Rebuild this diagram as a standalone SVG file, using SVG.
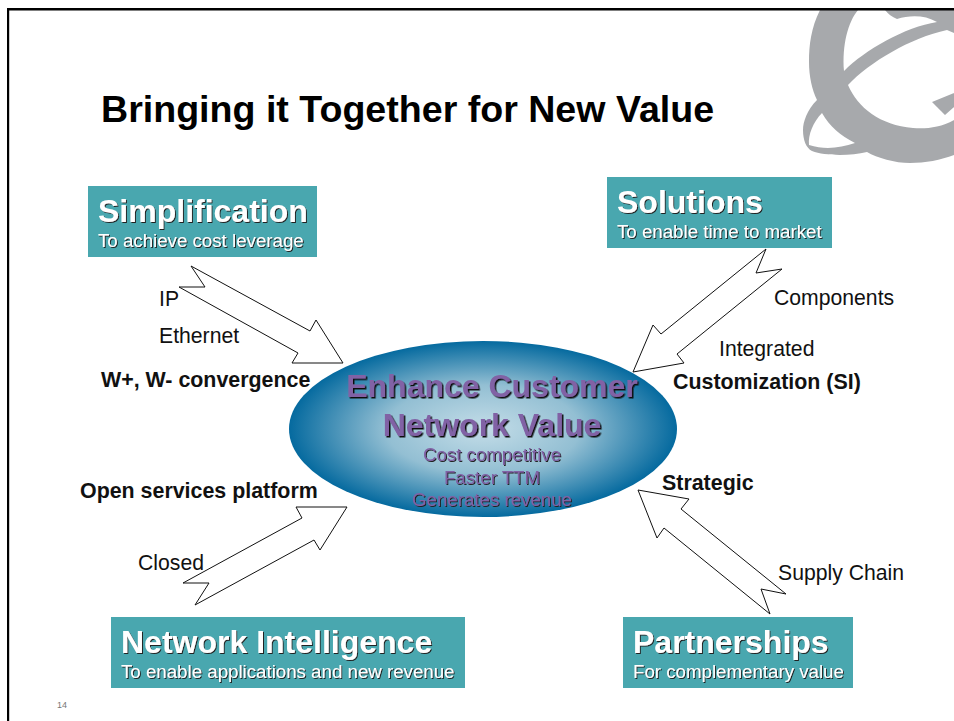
<svg xmlns="http://www.w3.org/2000/svg" width="954" height="721" viewBox="0 0 954 721">
<style>
text{font-family:"Liberation Sans",Arial,sans-serif}
.box{fill:#49a7af}
.h{font-size:32px;font-weight:bold;fill:#fff;filter:url(#sh)}
.s{font-size:18.700px;fill:#fff;filter:url(#sh)}
.lab{font-size:21.200px;fill:#111}
.blab{font-size:21.400px;font-weight:bold;fill:#111}
.arrow{fill:#fff;stroke:#111;stroke-width:1}
.p{fill:#8162a5;font-weight:bold;text-anchor:middle;font-size:32px;filter:url(#sh2)}
.q{fill:#8162a5;text-anchor:middle;font-size:18.700px;filter:url(#sh)}
</style>
<defs>
<radialGradient id="g" cx="0.5" cy="0.5" r="0.5">
<stop offset="0" stop-color="#c4dde8"/>
<stop offset="0.5" stop-color="#93bfd3"/>
<stop offset="1" stop-color="#056a9f"/>
</radialGradient>
<filter id="sh" x="-5%" y="-20%" width="110%" height="140%"><feDropShadow dx="1" dy="1" stdDeviation="0.300" flood-color="#222"/></filter>
<filter id="sh2" x="-5%" y="-20%" width="110%" height="140%"><feDropShadow dx="1.500" dy="1.500" stdDeviation="0.300" flood-color="#111"/></filter>
</defs>
<rect width="954" height="721" fill="#fff"/>
<g id="logo">
<path fill="#a7a9ac" fill-rule="evenodd" d="M820 10C811 28 809 45 809 62C809 76 812 90 817 100C807 110 803 122 803 130C803 140 806 148 812 151C825 156 850 156 867 152C877 158 895 163 910 163C925 163 941 160 954 155V10Z
M858 10C848 22 842 45 844 71C865 50 905 27 937 22C925 15 910 15 897 19C892 17 888 14 885 10Z
M848 85C870 62 910 38 947 30L954 33V93L932 102L945 115L954 107V120C940 128 925 129 913 128C880 125 858 108 848 85Z
M822 113C813 122 808 135 809 145C825 150 840 148 855 143C840 135 830 127 822 113Z"/>
</g>
<g id="frame">
<rect x="7" y="8" width="947" height="2.500" fill="#000"/>
<rect x="7" y="8" width="2.200" height="713" fill="#000"/>
</g>
<text x="101" y="122" font-size="37.600" font-weight="bold" fill="#000">Bringing it Together for New Value</text>
<text x="57" y="708" font-size="9" fill="#777">14</text>
<g id="connectors">
<path class="arrow" d="M191 266L310 331L316 320L343 363L292 363L298 353L179 287L205 287Z"/>
<path class="arrow" d="M766 249L661 334L653 325L633 372L684 363L677 354L782 269L756 273Z"/>
<path class="arrow" d="M183 583L302 518L296 507L347 507L320 550L314 540L195 605L209 583Z"/>
<path class="arrow" d="M638 490L689 499L681 509L786 594L761 589L770 614L664 528L657 538Z"/>
</g>
<g id="hub">
<ellipse cx="483" cy="429" rx="194" ry="88" fill="url(#g)"/>
<text class="p" x="492" y="397">Enhance Customer</text>
<text class="p" x="492" y="436">Network Value</text>
<text class="q" x="492" y="461">Cost competitive</text>
<text class="q" x="492" y="484">Faster TTM</text>
<text class="q" x="492" y="506">Generates revenue</text>
</g>
<g id="simplification">
<rect class="box" x="88" y="186" width="229" height="71"/>
<text class="h" x="98" y="222">Simplification</text>
<text class="s" x="98" y="247">To achieve cost leverage</text>
</g>
<g id="solutions">
<rect class="box" x="607" y="177" width="225" height="71"/>
<text class="h" x="617" y="213">Solutions</text>
<text class="s" x="617" y="238">To enable time to market</text>
</g>
<g id="network-intelligence">
<rect class="box" x="111" y="617" width="354" height="71"/>
<text class="h" x="121" y="653">Network Intelligence</text>
<text class="s" x="121" y="678">To enable applications and new revenue</text>
</g>
<g id="partnerships">
<rect class="box" x="623" y="617" width="230" height="71"/>
<text class="h" x="633" y="653">Partnerships</text>
<text class="s" x="633" y="678">For complementary value</text>
</g>
<g id="labels">
<text class="lab" x="159" y="306">IP</text>
<text class="lab" x="159" y="343">Ethernet</text>
<text class="blab" x="101" y="387">W+, W- convergence</text>
<text class="lab" x="774" y="305">Components</text>
<text class="lab" x="719" y="356">Integrated</text>
<text class="blab" x="673" y="389">Customization (SI)</text>
<text class="blab" x="80" y="498">Open services platform</text>
<text class="lab" x="138" y="570">Closed</text>
<text class="blab" x="662" y="490">Strategic</text>
<text class="lab" x="778" y="580">Supply Chain</text>
</g>
</svg>
